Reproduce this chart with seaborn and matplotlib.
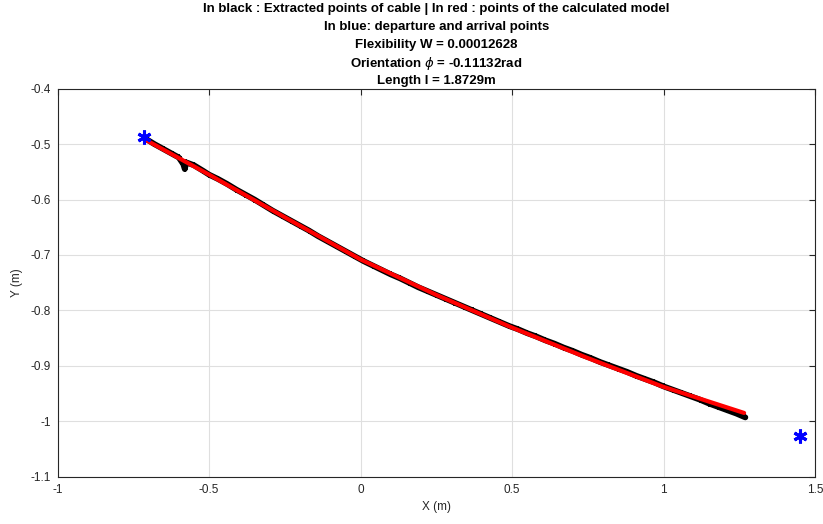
import matplotlib
matplotlib.use("Agg")
import matplotlib.pyplot as plt
import seaborn as sns
import pandas as pd

# extracted cable points (black)
cable_x = [-0.71, -0.68, -0.65, -0.62, -0.60, -0.585, -0.58, -0.575, -0.55, -0.52,
           -0.50, -0.47, -0.44, -0.41, -0.38, -0.35, -0.32, -0.29, -0.26, -0.23,
           -0.20, -0.17, -0.14, -0.11, -0.08, -0.05, -0.02, 0.01, 0.04, 0.07,
           0.10, 0.13, 0.16, 0.19, 0.22, 0.25, 0.28, 0.31, 0.34, 0.37,
           0.40, 0.43, 0.46, 0.49, 0.52, 0.55, 0.58, 0.61, 0.64, 0.67,
           0.70, 0.73, 0.76, 0.79, 0.82, 0.85, 0.88, 0.91, 0.94, 0.97,
           1.00, 1.03, 1.06, 1.09, 1.12, 1.15, 1.18, 1.21, 1.24, 1.27]
cable_y = [-0.490, -0.500, -0.509, -0.518, -0.524, -0.536, -0.545, -0.533, -0.538, -0.548,
           -0.555, -0.563, -0.572, -0.582, -0.591, -0.600, -0.610, -0.620, -0.629, -0.638,
           -0.647, -0.656, -0.666, -0.675, -0.684, -0.693, -0.702, -0.711, -0.719, -0.727,
           -0.735, -0.742, -0.750, -0.758, -0.765, -0.772, -0.779, -0.786, -0.793, -0.800,
           -0.807, -0.814, -0.821, -0.828, -0.834, -0.841, -0.847, -0.854, -0.860, -0.867,
           -0.873, -0.880, -0.886, -0.893, -0.899, -0.905, -0.911, -0.918, -0.924, -0.930,
           -0.937, -0.943, -0.949, -0.955, -0.961, -0.968, -0.974, -0.980, -0.986, -0.993]

# calculated model (red)
model_x = [-0.707, -0.5, -0.25, 0.0, 0.25, 0.5, 0.75, 1.0, 1.266]
model_y = [-0.493, -0.555, -0.632, -0.708, -0.772, -0.831, -0.886, -0.938, -0.985]

# departure and arrival points (blue)
ends_x = [-0.716, 1.450]
ends_y = [-0.488, -1.027]

title_lines = [
    "In black : Extracted points of cable | In red : points of the calculated model",
    "In blue: departure and arrival points",
    "Flexibility W = 0.00012628",
    r"Orientation $\phi$ = -0.11132rad",
    "Length l = 1.8729m",
]

sns.set_theme(style="whitegrid")
plt.rcParams["font.family"] = ["Liberation Sans", "DejaVu Sans"]
plt.rcParams["mathtext.fontset"] = "dejavusans"

fig = plt.figure(figsize=(8.23, 5.24), dpi=100)
ax = fig.add_axes([0.0699, 0.0903, 0.9204, 0.7404])

cable = pd.DataFrame({"x": cable_x, "y": cable_y})
model = pd.DataFrame({"x": model_x, "y": model_y})

sns.lineplot(data=cable, x="x", y="y", sort=False, estimator=None, color="black",
             linewidth=4.2, marker="+", markersize=5, markeredgewidth=1.2,
             markeredgecolor="black", ax=ax)
sns.lineplot(data=model, x="x", y="y", sort=False, estimator=None, color="red",
             linewidth=3.0, ax=ax)
ax.plot(ends_x, ends_y, linestyle="none", marker=(6, 2, 0), markersize=10,
        markeredgewidth=2.2, color="blue")

ax.set_xlim(-1, 1.5)
ax.set_ylim(-1.1, -0.4)
ax.set_xticks([-1, -0.5, 0, 0.5, 1, 1.5])
ax.set_xticklabels(["-1", "-0.5", "0", "0.5", "1", "1.5"])
ax.set_yticks([-1.1, -1, -0.9, -0.8, -0.7, -0.6, -0.5, -0.4])
ax.set_yticklabels(["-1.1", "-1", "-0.9", "-0.8", "-0.7", "-0.6", "-0.5", "-0.4"])

ax.set_facecolor("white")
ax.grid(True, color="#dfdfdf", linewidth=0.8)
for sp in ax.spines.values():
    sp.set_visible(True)
    sp.set_color("#262626")
    sp.set_linewidth(0.8)
ax.tick_params(direction="in", length=4, width=0.8, top=True, right=True,
               colors="#262626", labelsize=8.5, pad=5)

ax.set_xlabel("X (m)", fontsize=8.5, color="#262626", labelpad=4)
ax.set_ylabel("Y (m)", fontsize=8.5, color="#262626", labelpad=5)

# title: one text per line, evenly spaced like the original
cx = 0.0699 + 0.9204 / 2
for i, line in enumerate(title_lines):
    fig.text(cx, 1 - (9 + 18 * i) / 524, line, ha="center", va="center",
             fontsize=9.5, fontweight="bold", color="black")

fig.savefig("out.png", dpi=100)
